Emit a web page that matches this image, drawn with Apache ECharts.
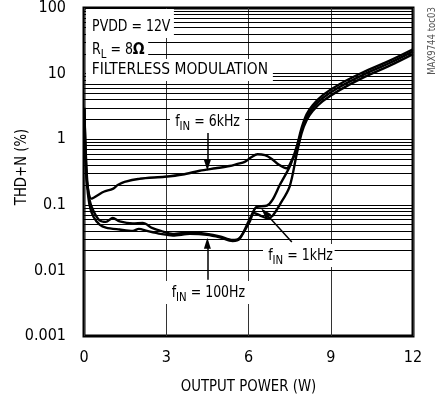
<!DOCTYPE html>
<html>
<head>
<meta charset="utf-8">
<script src="https://cdn.jsdelivr.net/npm/echarts@6/dist/echarts.min.js"></script>
<style>
html,body{margin:0;padding:0;background:#fff;}
#c{width:445px;height:398px;}
</style>
</head>
<body>
<div id="c"></div>
<script>
// ---- data ----
const xTickLabels = ['0', '3', '6', '9', '12'];
const yTickLabels = ['0.001', '0.01', '0.1', '1', '10', '100'];

const power100Hz = [0.01, 0.1, 0.2, 0.35, 0.57, 0.8, 1.3, 1.78, 2.0, 2.3, 2.8, 3.24, 3.86, 4.48, 4.95, 5.42, 5.67, 6.04, 6.3, 6.67, 6.88, 7.14, 7.5, 7.76, 7.94, 8.12, 8.34, 8.71, 9.32, 10.16, 11.15, 12];
const thd100Hz   = [3.0, 0.25, 0.1, 0.065, 0.05, 0.045, 0.042, 0.04, 0.043, 0.04, 0.036, 0.034, 0.036, 0.035, 0.032, 0.028, 0.03, 0.06, 0.093, 0.097, 0.12, 0.2, 0.38, 0.78, 1.5, 2.4, 3.3, 4.7, 6.9, 10.4, 15.8, 23.5];

const power1kHz = [0.01, 0.1, 0.2, 0.35, 0.57, 0.8, 1.05, 1.3, 1.78, 2.14, 2.5, 2.8, 3.24, 3.86, 4.48, 4.95, 5.42, 5.67, 6.04, 6.2, 6.45, 6.7, 6.88, 7.14, 7.5, 7.76, 7.94, 8.12, 8.34, 8.71, 9.32, 10.16, 11.15, 12];
const thd1kHz   = [3.0, 0.3, 0.12, 0.08, 0.058, 0.055, 0.063, 0.056, 0.052, 0.053, 0.044, 0.04, 0.036, 0.038, 0.036, 0.033, 0.029, 0.031, 0.055, 0.075, 0.068, 0.062, 0.068, 0.1, 0.19, 0.6, 1.25, 1.95, 2.7, 3.8, 5.6, 8.6, 13.2, 19.8];

const power6kHz = [0.01, 0.05, 0.12, 0.27, 0.5, 0.72, 1.05, 1.23, 1.48, 2.03, 2.94, 3.6, 4.22, 4.8, 5.31, 5.6, 5.86, 6.1, 6.33, 6.6, 6.85, 7.1, 7.39, 7.55, 7.76, 7.94, 8.12, 8.34, 8.71, 9.32, 10.16, 11.15, 12];
const thd6kHz   = [3.0, 0.5, 0.2, 0.124, 0.14, 0.158, 0.175, 0.2, 0.224, 0.25, 0.268, 0.29, 0.33, 0.36, 0.39, 0.42, 0.45, 0.53, 0.59, 0.57, 0.5, 0.41, 0.36, 0.45, 0.68, 1.38, 2.18, 3.0, 4.25, 6.25, 9.5, 14.5, 21.8];

// annotation arrows: [from, to] in data coordinates (W, %)
const arrow6kHz  = [[4.5, 1.24], [4.5, 0.40]];
const arrow100Hz = [[4.5, 0.0072], [4.5, 0.026]];
const arrow1kHz  = [[7.58, 0.027], [6.6, 0.076]];

// ---- build ----
const FONT = "'DejaVu Sans Condensed','Liberation Sans',sans-serif";
const zip = (xs, ys) => xs.map((x, i) => [x, ys[i]]);

const minorGrid = [];
for (let e = -3; e <= 1; e++) {
  for (let m = 2; m <= 9; m++) minorGrid.push({ yAxis: m * Math.pow(10, e) });
}

function curve(name, xs, ys) {
  return {
    name, type: 'line', data: zip(xs, ys), showSymbol: false, symbol: 'none',
    smooth: 0.3, lineStyle: { color: '#000', width: 2.4 }, itemStyle: { color: '#000' }, z: 3, animation: false
  };
}

function rich(lh) {
  return {
    n: { font: '16px ' + FONT, fill: '#000', lineHeight: lh },
    s: { font: '13px ' + FONT, fill: '#000', lineHeight: 14, verticalAlign: 'bottom' },
    b: { font: 'bold 16px DejaVu Sans', fill: '#000', lineHeight: lh }
  };
}
function annot(text, x, y, padding, lh, sx) {
  return {
    type: 'text', x, y, scaleX: sx, z: 100, silent: true,
    style: {
      text, rich: rich(lh), font: '16px ' + FONT, fill: '#000', lineHeight: lh,
      backgroundColor: '#fff', padding, align: 'left', verticalAlign: 'top'
    }
  };
}

const chart = echarts.init(document.getElementById('c'), null, { renderer: 'canvas' });
chart.setOption({
  animation: false,
  backgroundColor: '#fff',
  grid: { left: 84, right: 32, top: 8, bottom: 62, show: true, borderColor: '#000', borderWidth: 3, backgroundColor: 'transparent' },
  xAxis: {
    type: 'value', min: 0, max: 12, interval: 3,
    axisLine: { show: false }, axisTick: { show: false },
    splitLine: { show: true, lineStyle: { color: '#333', width: 1 } },
    axisLabel: { fontSize: 16, color: '#000', fontFamily: FONT, margin: 14,
      formatter: v => xTickLabels[Math.round(v / 3)] }
  },
  yAxis: {
    type: 'log', logBase: 10, min: 0.001, max: 100,
    axisLine: { show: false }, axisTick: { show: false },
    minorTick: { show: false }, minorSplitLine: { show: false },
    splitLine: { show: true, lineStyle: { color: '#000', width: 1 } },
    axisLabel: { fontSize: 16, color: '#000', fontFamily: FONT, margin: 18,
      formatter: v => yTickLabels[Math.round(Math.log10(v)) + 3] }
  },
  graphic: [
    annot('{n|PVDD = 12V}', 86, 9, [7, 4, 0, 7], 22, 0.87),
    annot('{n|R}{s|L}{n| = 8}{b|Ω}', 86, 38, [1, 4, 0, 7], 22, 0.87),
    annot('{n|FILTERLESS MODULATION}', 86, 59, [0, 5, 0, 6], 22, 0.96),
    annot('{n|f}{s|IN}{n| = 6kHz}', 170, 110, [0, 6, 0, 6], 23, 0.87),
    annot('{n|f}{s|IN}{n| = 1kHz}', 263, 244, [0, 2, 0, 6], 23, 0.87),
    annot('{n|f}{s|IN}{n| = 100Hz}', 163, 281, [0, 9, 0, 10], 23, 0.87),
    { type: 'text', x: 21.5, y: 167, rotation: Math.PI / 2, scaleX: 0.92, silent: true,
      style: { text: 'THD+N (%)', font: '16px ' + FONT, fill: '#000', align: 'center', verticalAlign: 'middle' } },
    { type: 'text', x: 248.5, y: 387, scaleX: 0.925, silent: true,
      style: { text: 'OUTPUT POWER (W)', font: '16px ' + FONT, fill: '#000', align: 'center', verticalAlign: 'middle' } },
    { type: 'text', x: 432, y: 41, rotation: Math.PI / 2, scaleX: 0.95, silent: true,
      style: { text: 'MAX9744 toc03', font: '10px ' + FONT, fill: '#555', align: 'center', verticalAlign: 'middle' } }
  ],
  series: [
    {
      name: 'grid', type: 'line', data: [], z: 1, silent: true,
      markLine: { silent: true, symbol: ['none', 'none'], label: { show: false }, animation: false,
        lineStyle: { color: '#000', width: 1, type: 'solid' }, emphasis: { disabled: true }, data: minorGrid }
    },
    curve('100Hz', power100Hz, thd100Hz),
    curve('1kHz', power1kHz, thd1kHz),
    curve('6kHz', power6kHz, thd6kHz),
    {
      name: 'arrows', type: 'line', data: [], z: 4, silent: true,
      markLine: { silent: true, symbol: ['none', 'triangle'], symbolSize: [7, 11], label: { show: false }, animation: false,
        lineStyle: { color: '#000', width: 1.5, type: 'solid' }, itemStyle: { color: '#000' }, emphasis: { disabled: true },
        data: [arrow6kHz, arrow100Hz, arrow1kHz].map(a => [{ coord: a[0] }, { coord: a[1] }]) }
    }
  ]
});
</script>
</body>
</html>
